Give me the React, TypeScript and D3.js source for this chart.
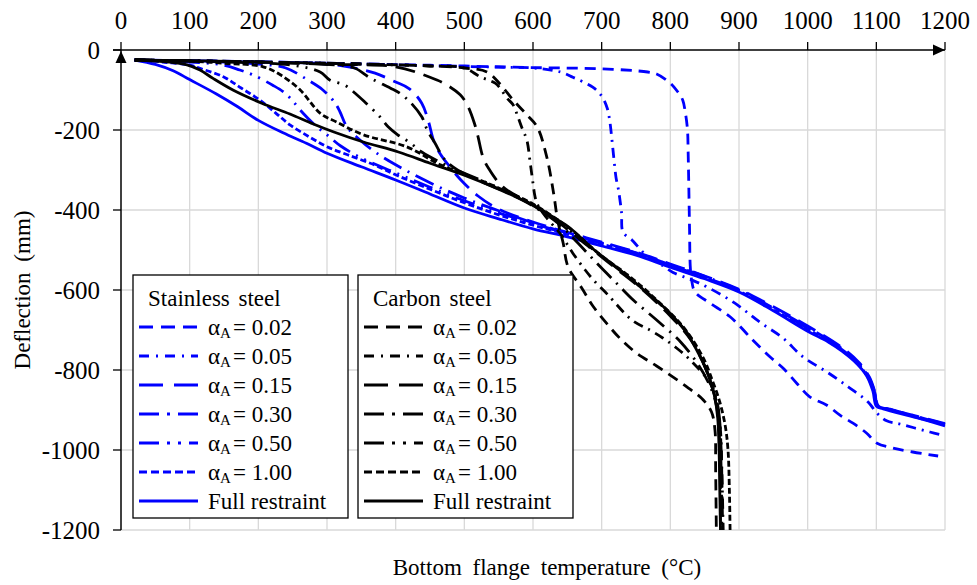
import React from "react";
import * as d3 from "d3";

type P = [number, number];

// ---- X / Y tick values ----
const xTicks = [0, 100, 200, 300, 400, 500, 600, 700, 800, 900, 1000, 1100, 1200];
const yTicks = [0, -200, -400, -600, -800, -1000, -1200];

const alphaLabels = ["0.02", "0.05", "0.15", "0.30", "0.50", "1.00"];

// ---- Stainless steel (blue) ----
const ss002: P[] = [[20,-25],[150,-28],[300,-33],[450,-38],[600,-44],[700,-47],[767,-55],[780,-60],[800,-83],[811,-105],[818,-125],[822,-158],[825,-200],[826,-260],[827,-350],[828,-450],[829,-540],[831,-575],[836,-605],[858,-633],[887,-667],[920,-725],[945,-767],[964,-795],[984,-833],[1003,-867],[1028,-888],[1047,-913],[1066,-933],[1086,-958],[1101,-983],[1124,-995],[1153,-1005],[1190,-1015]];
const ss005: P[] = [[20,-25],[150,-28],[300,-33],[450,-39],[550,-43],[600,-45],[640,-55],[658,-68],[687,-93],[700,-115],[708,-145],[712,-180],[715,-225],[718,-275],[721,-320],[724,-345],[726,-367],[729,-408],[731,-455],[744,-475],[751,-488],[766,-515],[790,-540],[804,-556],[830,-574],[853,-592],[894,-633],[930,-680],[964,-720],[993,-767],[1028,-805],[1059,-842],[1088,-880],[1101,-908],[1115,-927],[1134,-935],[1178,-955],[1197,-963]];
const ss015: P[] = [[20,-25],[200,-30],[300,-35],[340,-45],[370,-58],[400,-80],[420,-97],[438,-133],[448,-180],[455,-225],[465,-260],[478,-290],[495,-325],[520,-365],[550,-398],[600,-430],[650,-456],[700,-480],[750,-505],[800,-535],[850,-565],[900,-598],[950,-642],[1000,-690],[1050,-744],[1075,-782],[1090,-818],[1098,-856],[1103,-890],[1120,-899],[1160,-916],[1200,-934]];
const ss030: P[] = [[20,-25],[150,-30],[200,-35],[240,-45],[272,-75],[294,-100],[312,-133],[319,-155],[329,-192],[348,-225],[370,-255],[400,-287],[450,-332],[500,-370],[550,-402],[600,-432],[650,-458],[700,-482],[750,-507],[800,-537],[850,-566],[900,-600],[950,-645],[1000,-693],[1050,-747],[1075,-785],[1090,-822],[1098,-858],[1102,-890],[1120,-898],[1160,-917],[1200,-935]];
const ss050: P[] = [[20,-25],[100,-30],[150,-38],[173,-50],[192,-62],[221,-88],[236,-104],[249,-125],[261,-150],[282,-187],[300,-212],[320,-240],[350,-270],[400,-307],[450,-343],[500,-377],[550,-407],[600,-434],[650,-459],[700,-483],[750,-508],[800,-538],[850,-568],[900,-601],[950,-647],[1000,-696],[1050,-749],[1075,-787],[1090,-825],[1098,-860],[1102,-891],[1120,-899],[1160,-918],[1200,-936]];
const ss100: P[] = [[20,-25],[60,-30],[100,-38],[115,-46],[149,-67],[175,-95],[202,-125],[225,-157],[246,-187],[275,-218],[300,-242],[330,-262],[370,-288],[400,-312],[450,-348],[500,-382],[550,-412],[600,-438],[650,-461],[700,-485],[750,-510],[800,-540],[850,-570],[900,-603],[950,-649],[1000,-698],[1050,-751],[1075,-788],[1090,-826],[1098,-862],[1102,-891],[1120,-899],[1160,-919],[1200,-937]];
const ssFull: P[] = [[20,-25],[50,-36],[76,-52],[100,-74],[139,-110],[170,-142],[200,-176],[236,-207],[270,-233],[300,-258],[350,-292],[400,-325],[450,-360],[500,-395],[550,-422],[600,-447],[650,-467],[700,-490],[750,-513],[800,-543],[850,-572],[900,-605],[950,-652],[1000,-703],[1030,-730],[1050,-753],[1072,-785],[1086,-815],[1095,-853],[1100,-890],[1110,-897],[1160,-920],[1200,-940]];

// ---- Carbon steel (black) ----
const cs002: P[] = [[20,-25],[200,-30],[350,-35],[450,-40],[500,-45],[533,-55],[552,-85],[571,-125],[590,-160],[606,-192],[620,-267],[630,-358],[635,-417],[639,-450],[644,-483],[651,-542],[671,-595],[688,-642],[707,-683],[729,-725],[751,-758],[780,-790],[824,-842],[848,-875],[860,-905],[865,-950],[866,-1050],[867,-1200]];
const cs005: P[] = [[20,-25],[200,-30],[350,-35],[450,-40],[500,-45],[523,-67],[545,-83],[552,-95],[562,-120],[571,-137],[578,-167],[584,-195],[591,-225],[596,-283],[600,-333],[603,-367],[607,-388],[620,-420],[640,-460],[658,-508],[676,-550],[688,-575],[709,-612],[744,-675],[770,-700],[789,-720],[809,-745],[829,-775],[858,-833],[868,-880],[873,-950],[875,-1050],[877,-1200]];
const cs015: P[] = [[20,-25],[200,-30],[300,-36],[400,-42],[450,-68],[470,-83],[494,-112],[505,-140],[515,-185],[520,-217],[527,-267],[535,-295],[556,-342],[600,-388],[640,-435],[680,-490],[720,-545],[760,-600],[800,-665],[830,-725],[850,-790],[862,-850],[870,-900],[874,-1000],[876,-1200]];
const cs030: P[] = [[20,-25],[200,-30],[300,-36],[340,-45],[363,-70],[392,-95],[406,-108],[421,-130],[438,-167],[446,-200],[457,-232],[472,-275],[490,-300],[520,-325],[560,-355],[600,-390],[640,-438],[664,-480],[693,-533],[724,-587],[746,-625],[780,-675],[815,-730],[840,-785],[855,-830],[866,-880],[871,-950],[873,-1200]];
const cs050: P[] = [[20,-25],[150,-30],[250,-38],[290,-55],[304,-75],[326,-88],[341,-108],[355,-130],[377,-167],[389,-192],[403,-212],[421,-232],[438,-255],[470,-285],[500,-308],[550,-345],[600,-386],[640,-432],[680,-488],[720,-542],[760,-597],[800,-660],[830,-720],[850,-790],[860,-835],[868,-885],[872,-950],[874,-1050],[875,-1200]];
const cs100: P[] = [[20,-25],[100,-28],[150,-33],[207,-42],[232,-62],[261,-100],[290,-158],[314,-180],[353,-212],[416,-242],[465,-287],[500,-310],[550,-345],[600,-385],[639,-428],[660,-455],[700,-515],[740,-565],[780,-625],[820,-695],[848,-770],[862,-830],[872,-880],[880,-940],[884,-1000],[886,-1100],[887,-1200]];
const csFull: P[] = [[20,-25],[70,-30],[96,-37],[115,-50],[134,-71],[163,-100],[205,-133],[246,-160],[280,-185],[310,-205],[353,-230],[404,-255],[450,-283],[500,-313],[550,-348],[600,-388],[639,-428],[654,-445],[688,-498],[727,-550],[756,-592],[795,-650],[824,-708],[848,-783],[858,-825],[865,-870],[869,-920],[871,-1000],[872,-1100],[873,-1200]];

const dashes = ["11,7", "10,6,2,6", "20,9", "20,7,2,7", "20,7,2,7,2,7", "6,3", ""];
const legendDashes = ["14,8", "10,7,2,7", "24,11", "20,8,3,8", "20,8,3,8,3,8", "8,4", ""];

const ssSeries = [ss002, ss005, ss015, ss030, ss050, ss100, ssFull];
const csSeries = [cs002, cs005, cs015, cs030, cs050, cs100, csFull];

const BLUE = "#0000ff";
const FONT = "'Liberation Serif', 'Times New Roman', serif";

export default function App() {
  const W = 977, H = 585;
  const x = d3.scaleLinear().domain([0, 1200]).range([121, 945]);
  const y = d3.scaleLinear().domain([0, -1200]).range([50, 530]);
  const line = d3.line<P>().x(d => x(d[0])).y(d => y(d[1])).curve(d3.curveCatmullRom.alpha(0.5));
  const grid = "#d9d9d9";

  const legend = (bx: number, title: string, color: string) => {
    const lx0 = bx + 6, lx1 = bx + 65, tx = bx + 75;
    return (
      <g>
        <rect x={bx} y={275} width={215} height={243} fill="#fff" stroke="#000" strokeWidth={1.3} />
        <text x={bx + 15} y={298} dominantBaseline="central" fontSize={23} wordSpacing={3}>{title}</text>
        {dashes.map((_, i) => {
          const cy = 327 + i * 29;
          return (
            <g key={i}>
              <line x1={lx0} x2={lx1} y1={cy} y2={cy} stroke={color} strokeWidth={3}
                strokeDasharray={legendDashes[i] || undefined} />
              {i < 6 ? (
                <text x={tx} y={cy} dominantBaseline="central" fontSize={23}>
                  <tspan>α</tspan>
                  <tspan fontSize={15} dy={6}>A</tspan>
                  <tspan dy={-6} dx={2}>= {alphaLabels[i]}</tspan>
                </text>
              ) : (
                <text x={tx} y={cy} dominantBaseline="central" fontSize={23}>Full restraint</text>
              )}
            </g>
          );
        })}
      </g>
    );
  };

  return (
    <svg width={W} height={H} style={{ position: "absolute", left: 0, top: 0, background: "#fff" }}
      fontFamily={FONT}>
      <rect x={0} y={0} width={W} height={H} fill="#fff" />
      {/* grid */}
      {xTicks.filter(t => t > 0).map(t => (
        <line key={"gx" + t} x1={x(t)} x2={x(t)} y1={y(0)} y2={y(-1200)} stroke={grid} strokeWidth={1.3} />
      ))}
      {yTicks.filter(t => t < 0).map(t => (
        <line key={"gy" + t} x1={x(0)} x2={x(1200)} y1={y(t)} y2={y(t)} stroke={grid} strokeWidth={1.3} />
      ))}
      {/* curves */}
      {ssSeries.map((d, i) => (
        <path key={"ss" + i} d={line(d) || ""} fill="none" stroke={BLUE} strokeWidth={2.8}
          strokeDasharray={dashes[i] || undefined} />
      ))}
      {csSeries.map((d, i) => (
        <path key={"cs" + i} d={line(d) || ""} fill="none" stroke="#000" strokeWidth={2.8}
          strokeDasharray={dashes[i] || undefined} />
      ))}
      {/* axes */}
      <line x1={x(0) - 8} x2={x(1200)} y1={y(0)} y2={y(0)} stroke="#000" strokeWidth={1.5} />
      <line x1={x(0)} x2={x(0)} y1={y(0)} y2={y(-1200)} stroke="#000" strokeWidth={1.5} />
      <path d={`M${x(1200)},${y(0)} l-12,-5.5 l0,11 z`} fill="#000" />
      <path d={`M${x(0)},${y(0) + 1} l-5.5,12 l11,0 z`} fill="#000" />
      {xTicks.map(t => (
        <g key={"xt" + t}>
          <line x1={x(t)} x2={x(t)} y1={y(0)} y2={y(0) - 8} stroke="#000" strokeWidth={1.3} />
          <text x={x(t)} y={29} textAnchor="middle" fontSize={25}>{t}</text>
        </g>
      ))}
      {yTicks.map(t => (
        <g key={"yt" + t}>
          <line x1={x(0) - 8} x2={x(0)} y1={y(t)} y2={y(t)} stroke="#000" strokeWidth={1.3} />
          <text x={100} y={y(t)} textAnchor="end" dominantBaseline="central" fontSize={25}>{t}</text>
        </g>
      ))}
      {/* legends */}
      {legend(133, "Stainless steel", BLUE)}
      {legend(358, "Carbon steel", "#000")}
      {/* axis titles */}
      <text x={547} y={575} textAnchor="middle" fontSize={23} wordSpacing={5}>Bottom flange temperature (°C)</text>
      <text transform={`translate(30,290) rotate(-90)`} textAnchor="middle" fontSize={23} wordSpacing={5}>Deflection (mm)</text>
    </svg>
  );
}
